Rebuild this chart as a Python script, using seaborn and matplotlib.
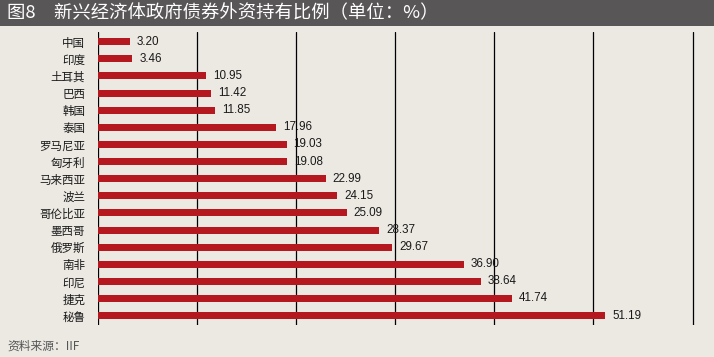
import matplotlib
matplotlib.use("Agg")
import matplotlib.pyplot as plt
from matplotlib.patches import Rectangle
import seaborn as sns
import pandas as pd

countries = ["中国", "印度", "土耳其", "巴西", "韩国", "泰国", "罗马尼亚", "匈牙利",
             "马来西亚", "波兰", "哥伦比亚", "墨西哥", "俄罗斯", "南非", "印尼", "捷克", "秘鲁"]
shares = [3.20, 3.46, 10.95, 11.42, 11.85, 17.96, 19.03, 19.08,
          22.99, 24.15, 25.09, 28.37, 29.67, 36.90, 38.64, 41.74, 51.19]
x_ticks = [0, 10, 20, 30, 40, 50, 60]
title = "图8　新兴经济体政府债券外资持有比例（单位：%）"
source = "资料来源：IIF"

BG = "#ECE9E3"
BAR = "#B5191F"
TITLE_BG = "#595657"

sns.set_theme(style="white")
plt.rcParams["font.family"] = ["Noto Sans CJK SC", "DejaVu Sans"]

df = pd.DataFrame({"country": countries, "share": shares})

W, H = 714, 357
px_per_unit = (692.5 - 98) / 60
x_max = 60.3
fig = plt.figure(figsize=(W / 100, H / 100), dpi=100, facecolor=BG)
ax = fig.add_axes([98 / W, 1 - 325 / H, (x_max * px_per_unit) / W, (325 - 32) / H])
ax.set_facecolor(BG)

sns.barplot(data=df, y="country", x="share", orient="h", color=BAR,
            width=0.41, ax=ax, saturation=1, edgecolor="none", linewidth=0)

ax.set_xlim(0, x_max)
ax.set_ylim(16.55, -0.57)
ax.set_xticks(x_ticks)
ax.tick_params(axis="x", length=0, labelbottom=False)
ax.tick_params(axis="y", length=0, pad=9.2, labelsize=8.3, labelcolor="#1a1a1a")
ax.grid(axis="x", color="black", linewidth=0.9)
ax.grid(axis="y", visible=False)
ax.set_axisbelow(True)
for s in ax.spines.values():
    s.set_visible(False)
ax.set_xlabel("")
ax.set_ylabel("")

for c in ax.containers:
    ax.bar_label(c, fmt="%.2f", padding=5, fontsize=8.4, color="#1a1a1a",
                 family=["Liberation Sans", "DejaVu Sans"])

fig.patches.append(Rectangle((0, 1 - 26 / H), 1, 26 / H, transform=fig.transFigure,
                             facecolor=TITLE_BG, edgecolor="none", zorder=0))
fig.text(7 / W, 1 - 13 / H, title, color="white", fontsize=13.2, va="center", ha="left")
fig.text(7 / W, 1 - 346 / H, source, color="#555555", fontsize=8.5, va="center", ha="left")

fig.savefig("out.png", dpi=100, facecolor=BG)
